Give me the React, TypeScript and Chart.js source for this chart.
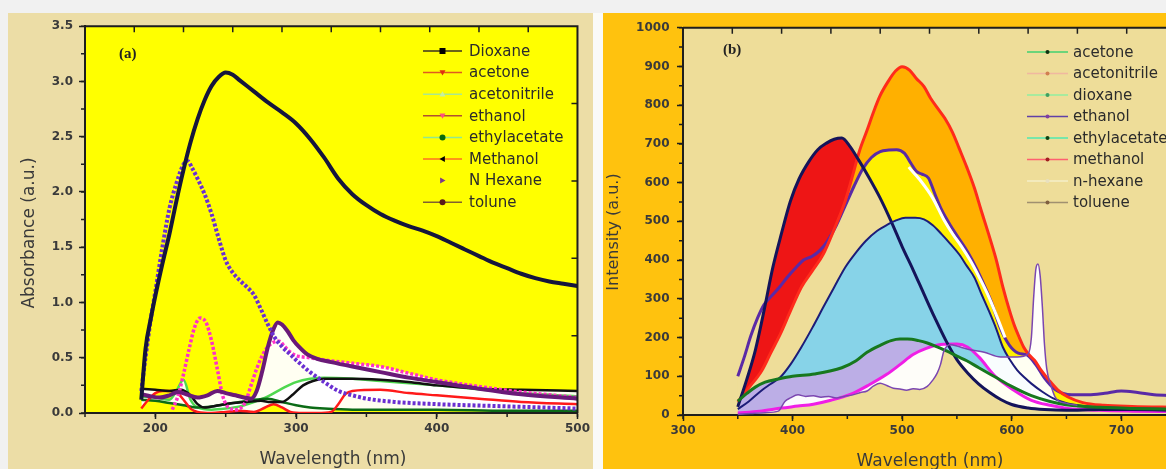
import React, { useEffect, useRef } from 'react';
import { Chart, registerables } from 'chart.js';

Chart.register(...registerables);

// ---------------- Panel (a): absorbance ----------------
const aNames = ['Dioxane', 'acetone', 'acetonitrile', 'ethanol', 'ethylacetate', 'Methanol', 'N Hexane', 'tolune'];
const aXTicks = [200, 300, 400, 500];
const aYTicks = [0, 0.5, 1, 1.5, 2, 2.5, 3, 3.5];

const aDioxaneX = [190, 200, 210, 218, 225, 230, 235, 245, 255, 265, 275, 282, 290, 298, 305, 312, 320, 340, 360, 380, 400, 430, 460, 500];
const aDioxaneY = [0.22, 0.21, 0.2, 0.21, 0.16, 0.08, 0.05, 0.07, 0.09, 0.1, 0.11, 0.1, 0.1, 0.17, 0.25, 0.29, 0.31, 0.31, 0.3, 0.28, 0.25, 0.22, 0.21, 0.2];

const aAcetoneX = [190, 195, 200, 205, 210, 215, 220, 225, 230, 240, 250, 260, 270, 278, 284, 290, 296, 305, 315, 325, 330, 335, 340, 360, 380, 400, 430, 460, 500];
const aAcetoneY = [0.04, 0.12, 0.18, 0.2, 0.2, 0.19, 0.12, 0.04, 0.01, 0.0, 0.01, 0.02, 0.01, 0.05, 0.08, 0.05, 0.01, 0.0, 0.0, 0.01, 0.08, 0.17, 0.2, 0.21, 0.18, 0.16, 0.13, 0.1, 0.08];

const aAcetonitrileX = [190, 200, 210, 215, 220, 225, 230, 240, 250, 260, 270, 280, 290, 300, 310, 320, 340, 360, 400, 450, 500];
const aAcetonitrileY = [0.15, 0.14, 0.12, 0.2, 0.3, 0.12, 0.05, 0.03, 0.04, 0.06, 0.1, 0.15, 0.22, 0.28, 0.31, 0.32, 0.31, 0.29, 0.25, 0.19, 0.15];

const aEthanolX = [212, 216, 220, 224, 228, 232, 236, 240, 244, 248, 252, 258, 264, 268, 272, 276, 280, 284, 288, 292, 296, 300, 310, 320, 340, 360, 380, 400, 430, 460, 500];
const aEthanolY = [0.03, 0.15, 0.35, 0.58, 0.78, 0.86, 0.82, 0.65, 0.4, 0.15, 0.05, 0.03, 0.1, 0.25, 0.4, 0.52, 0.6, 0.64, 0.65, 0.6, 0.55, 0.52, 0.5, 0.48, 0.45, 0.42, 0.36, 0.3, 0.24, 0.19, 0.14];

const aEthylacetateX = [190, 200, 210, 220, 230, 240, 250, 260, 270, 280, 290, 300, 310, 320, 340, 360, 400, 450, 500];
const aEthylacetateY = [0.12, 0.11, 0.09, 0.07, 0.05, 0.06, 0.08, 0.1, 0.12, 0.13, 0.1, 0.07, 0.05, 0.04, 0.03, 0.03, 0.03, 0.02, 0.02];

const aMethanolX = [190, 193, 197, 200, 205, 210, 215, 220, 225, 230, 235, 240, 245, 250, 255, 260, 270, 280, 290, 300, 310, 320, 330, 340, 350, 360, 370, 380, 390, 400, 410, 420, 430, 440, 450, 460, 470, 480, 490, 500];
const aMethanolY = [0.12, 0.58, 0.87, 1.06, 1.35, 1.62, 1.92, 2.2, 2.45, 2.66, 2.83, 2.96, 3.04, 3.08, 3.06, 3.01, 2.91, 2.81, 2.72, 2.62, 2.48, 2.31, 2.12, 1.98, 1.88, 1.8, 1.74, 1.69, 1.65, 1.6, 1.54, 1.48, 1.42, 1.36, 1.31, 1.26, 1.22, 1.19, 1.17, 1.15];

const aNHexaneX = [190, 193, 197, 200, 205, 210, 215, 220, 223, 226, 230, 235, 240, 245, 250, 255, 260, 265, 270, 275, 280, 285, 290, 295, 300, 310, 320, 330, 340, 350, 370, 400, 450, 500];
const aNHexaneY = [0.2, 0.5, 0.87, 1.1, 1.5, 1.85, 2.08, 2.25, 2.28, 2.22, 2.12, 1.98, 1.8, 1.58, 1.38, 1.27, 1.2, 1.14, 1.07, 0.94, 0.8, 0.68, 0.6, 0.54, 0.48, 0.37, 0.28, 0.2, 0.16, 0.13, 0.1, 0.08, 0.06, 0.04];

const aToluneX = [190, 197, 203, 210, 216, 222, 230, 237, 244, 250, 257, 263, 268, 272, 276, 280, 284, 287, 290, 294, 298, 302, 308, 315, 325, 340, 360, 380, 400, 430, 460, 500];
const aToluneY = [0.17, 0.15, 0.14, 0.16, 0.19, 0.17, 0.14, 0.16, 0.2, 0.18, 0.16, 0.14, 0.13, 0.2, 0.38, 0.6, 0.76, 0.82, 0.8, 0.74, 0.66, 0.6, 0.53, 0.49, 0.46, 0.42, 0.37, 0.32, 0.28, 0.22, 0.17, 0.13];

// ---------------- Panel (b): emission intensity ----------------
const bNames = ['acetone', 'acetonitrile', 'dioxane', 'ethanol', 'ethylacetate', 'methanol', 'n-hexane', 'toluene'];
const bXTicks = [300, 400, 500, 600, 700];
const bYTicks = [0, 100, 200, 300, 400, 500, 600, 700, 800, 900, 1000];

const bAcetoneX = [350, 358, 366, 375, 387, 400, 420, 445, 458, 468, 480, 490, 498, 505, 515, 523, 532, 541, 550, 559, 570, 585, 600, 618, 635, 651, 680, 710, 750];
const bAcetoneY = [36, 55, 72, 85, 93, 100, 106, 122, 140, 162, 180, 192, 196, 196, 192, 186, 176, 165, 152, 140, 122, 98, 74, 50, 35, 26, 20, 17, 15];

const bAcetonitrileX = [350, 358, 366, 374, 382, 390, 398, 406, 415, 423, 431, 438, 445, 452, 460, 470, 480, 490, 500, 510, 520, 530, 540, 550, 560, 570, 580, 590, 600, 615, 630, 650, 680, 710, 750];
const bAcetonitrileY = [21, 90, 167, 270, 381, 470, 552, 610, 655, 685, 702, 712, 715, 695, 660, 612, 560, 500, 435, 375, 312, 250, 192, 143, 108, 80, 58, 40, 27, 18, 14, 12, 14, 14, 12];

const bDioxaneX = [350, 370, 390, 405, 419, 435, 455, 470, 486, 498, 510, 522, 535, 550, 560, 570, 585, 602, 618, 635, 651, 680, 710, 750];
const bDioxaneY = [5, 10, 18, 23, 28, 38, 56, 78, 105, 130, 156, 172, 182, 183, 175, 150, 100, 64, 38, 25, 17, 12, 10, 9];

const bEthanolX = [350, 356, 362, 368, 374, 380, 388, 395, 403, 410, 418, 425, 432, 440, 448, 456, 464, 472, 480, 488, 495, 502, 508, 513, 518, 524, 530, 536, 544, 552, 560, 568, 575, 582, 590, 598, 606, 614, 622, 630, 640, 655, 670, 685, 700, 715, 730, 750];
const bEthanolY = [100, 150, 205, 250, 285, 305, 330, 355, 380, 400, 410, 425, 450, 490, 540, 590, 635, 665, 680, 684, 685, 676, 650, 629, 622, 612, 570, 530, 490, 455, 420, 378, 335, 288, 222, 180, 160, 155, 130, 95, 65, 52, 52, 56, 62, 58, 52, 50];

const bEthylacetateX = [350, 360, 372, 380, 389, 398, 408, 418, 428, 438, 448, 458, 467, 477, 487, 495, 503, 512, 520, 528, 536, 544, 552, 559, 566, 572, 579, 586, 592, 599, 605, 612, 618, 628, 638, 651, 670, 700, 750];
const bEthylacetateY = [15, 35, 64, 80, 98, 130, 175, 225, 278, 330, 381, 420, 450, 475, 492, 503, 509, 509, 505, 490, 467, 442, 415, 385, 355, 315, 270, 222, 175, 140, 116, 96, 81, 60, 43, 30, 22, 18, 15];

const bMethanolX = [350, 360, 372, 380, 389, 398, 408, 418, 428, 438, 448, 455, 461, 468, 474, 480, 487, 494, 500, 507, 513, 520, 526, 533, 539, 546, 552, 559, 566, 572, 579, 586, 592, 598, 602, 607, 611, 616, 621, 627, 634, 642, 651, 665, 684, 710, 750];
const bMethanolY = [34, 70, 115, 160, 210, 268, 330, 372, 415, 480, 552, 620, 681, 735, 783, 825, 860, 888, 899, 890, 869, 848, 818, 790, 766, 730, 689, 640, 586, 530, 467, 400, 330, 270, 235, 200, 175, 155, 141, 115, 90, 65, 47, 32, 25, 22, 20];

const bNHexaneX = [506, 516, 528, 538, 546, 554, 562, 570, 578, 586, 594];
const bNHexaneY = [640, 608, 560, 505, 468, 436, 400, 358, 312, 258, 200];

const bTolueneX = [350, 362, 375, 387, 393, 398, 405, 412, 419, 426, 433, 440, 447, 455, 462, 468, 474, 480, 486, 492, 498, 504, 510, 516, 523, 528, 532, 535, 538, 541, 544, 550, 560, 575, 590, 605, 615, 618, 620, 622, 624, 626, 628, 630, 632, 636, 640, 650, 660];
const bTolueneY = [2, 4, 6, 10, 35, 44, 52, 48, 50, 46, 48, 44, 48, 52, 58, 62, 75, 82, 76, 69, 67, 64, 68, 66, 74, 90, 108, 130, 164, 178, 182, 178, 170, 162, 150, 150, 158, 200, 300, 375, 390, 360, 280, 180, 120, 75, 45, 30, 25];

// ---------------- styles ----------------
const PAGE_BG = '#f1f1f1';
const PANEL_A_BG = '#ecdda6';
const PANEL_B_BG = '#ffc20e';
const PLOT_A_BG = '#ffff00';
const PLOT_B_BG = '#eedd99';
const AXIS = '#1e1e1e';
const TICK_TEXT = '#3a3a3a';
const WHITE = 'rgba(255,255,255,0.95)';
const WHITE2 = 'rgba(255,255,255,0.94)';

const aLegendLines = ['#3a3020', '#e05a20', '#a8e890', '#b05030', '#90e890', '#ff7020', '', '#806030'];
const aLegendMarks = ['#000000', '#e03010', '#c8f0a0', '#ff5080', '#0a6a0a', '#000000', '#7a3a8a', '#5a1a1a'];
const aLegendShapes = ['square', 'down', 'up', 'down', 'circle', 'left', 'right', 'circle'];
const bLegendLines = ['#40d070', '#f0b8a0', '#90eea0', '#6040a8', '#50e8b0', '#ff6070', '#f4eec8', '#a09070'];
const bLegendMarks = ['#103010', '#d08050', '#40a060', '#8040a0', '#104010', '#a02020', '#e8e0c0', '#806040'];
const bLegendShapes = ['circle', 'circle', 'circle', 'circle', 'circle', 'circle', 'circle', 'circle'];

const pts = (xs: number[], ys: number[]) => xs.map((x, i) => ({ x, y: ys[i] }));

function drawMarker(ctx: CanvasRenderingContext2D, shape: string, x: number, y: number, r: number, color: string) {
  ctx.fillStyle = color;
  ctx.beginPath();
  if (shape === 'square') ctx.rect(x - r, y - r, 2 * r, 2 * r);
  else if (shape === 'circle') ctx.arc(x, y, r, 0, Math.PI * 2);
  else if (shape === 'up') { ctx.moveTo(x, y - r); ctx.lineTo(x + r, y + r * 0.8); ctx.lineTo(x - r, y + r * 0.8); ctx.closePath(); }
  else if (shape === 'down') { ctx.moveTo(x, y + r); ctx.lineTo(x + r, y - r * 0.8); ctx.lineTo(x - r, y - r * 0.8); ctx.closePath(); }
  else if (shape === 'left') { ctx.moveTo(x - r, y); ctx.lineTo(x + r * 0.8, y - r); ctx.lineTo(x + r * 0.8, y + r); ctx.closePath(); }
  else if (shape === 'right') { ctx.moveTo(x + r, y); ctx.lineTo(x - r * 0.8, y - r); ctx.lineTo(x - r * 0.8, y + r); ctx.closePath(); }
  ctx.fill();
}

const framePlugin = {
  id: 'frame',
  beforeDraw(chart: any, _a: any, o: any) {
    const { ctx, chartArea: a } = chart;
    ctx.save();
    ctx.fillStyle = o.plotBg;
    ctx.fillRect(a.left, a.top, a.right - a.left, a.bottom - a.top);
    ctx.restore();
  },
  afterDraw(chart: any, _a: any, o: any) {
    const { ctx, chartArea: a } = chart;
    const xs = chart.scales.x;
    const ys = chart.scales.y;
    ctx.save();
    ctx.strokeStyle = o.color;
    ctx.lineWidth = 2;
    ctx.beginPath();
    ctx.moveTo(a.left, a.top);
    ctx.lineTo(a.right, a.top);
    ctx.lineTo(a.right, a.bottom);
    ctx.stroke();
    ctx.lineWidth = 1.5;
    ctx.beginPath();
    for (let v = xs.min; v <= xs.max + 1e-9; v += o.minorX) {
      const p = xs.getPixelForValue(v);
      ctx.moveTo(p, a.bottom); ctx.lineTo(p, a.bottom + o.minorLen);
    }
    for (let v = ys.min; v <= ys.max + 1e-9; v += o.minorY) {
      const p = ys.getPixelForValue(v);
      ctx.moveTo(a.left, p); ctx.lineTo(a.left - o.minorLen, p);
    }
    for (let i = 1; i < o.topDiv; i++) {
      const p = a.left + ((a.right - a.left) * i) / o.topDiv;
      ctx.moveTo(p, a.top); ctx.lineTo(p, a.top + o.frameTickLen);
    }
    for (let i = 1; i < o.rightDiv; i++) {
      const p = a.top + ((a.bottom - a.top) * i) / o.rightDiv;
      ctx.moveTo(a.right, p); ctx.lineTo(a.right - o.frameTickLen, p);
    }
    ctx.stroke();
    ctx.fillStyle = o.titleColor;
    ctx.textAlign = 'center';
    ctx.textBaseline = 'middle';
    ctx.font = o.xTitleFont;
    ctx.fillText(o.xTitle, o.xTitleX, o.xTitleY);
    ctx.translate(o.yTitleX, o.yTitleY);
    ctx.rotate(-Math.PI / 2);
    ctx.font = o.yTitleFont;
    ctx.fillText(o.yTitle, 0, 0);
    ctx.restore();
  },
};

const legendPlugin = {
  id: 'boxLegend',
  afterDraw(chart: any, _a: any, o: any) {
    const ctx = chart.ctx;
    ctx.save();
    chart.data.datasets.forEach((ds: any, i: number) => {
      const y = o.y0 + i * o.rowH;
      const line = o.lines[i];
      if (line) {
        ctx.strokeStyle = line;
        ctx.lineWidth = o.lineWidth;
        ctx.beginPath();
        ctx.moveTo(o.x0, y);
        ctx.lineTo(o.x1, y);
        ctx.stroke();
      }
      drawMarker(ctx, o.shapes[i], (o.x0 + o.x1) / 2, y, o.markerR, o.marks[i]);
      ctx.fillStyle = o.textColor;
      ctx.font = o.font;
      ctx.textAlign = 'left';
      ctx.textBaseline = 'middle';
      ctx.fillText(ds.label, o.textX, y + 1);
    });
    ctx.restore();
  },
};

function axes(xMin: number, xMax: number, yMin: number, yMax: number, xTicks: number[], yTicks: number[], yFmt: (v: number) => string, yWidth: number, xHeight: number, yPad: number) {
  const tickFont = { family: 'DejaVu Sans', size: 12, weight: 'bold' };
  const grid = { display: true, drawOnChartArea: false, drawTicks: true, tickLength: 6, tickWidth: 1.5, tickColor: AXIS };
  const border = { display: true, color: AXIS, width: 2 };
  return {
    x: {
      type: 'linear', min: xMin, max: xMax, bounds: 'data',
      afterBuildTicks: (s: any) => { s.ticks = xTicks.map((v) => ({ value: v })); },
      afterFit: (s: any) => { s.height = xHeight; },
      ticks: { font: tickFont, color: TICK_TEXT, padding: 3, autoSkip: false, maxRotation: 0, callback: (v: any) => String(v) },
      grid, border,
    },
    y: {
      type: 'linear', min: yMin, max: yMax, bounds: 'data',
      afterBuildTicks: (s: any) => { s.ticks = yTicks.map((v) => ({ value: v })); },
      afterFit: (s: any) => { s.width = yWidth; },
      ticks: { font: tickFont, color: TICK_TEXT, padding: yPad, autoSkip: false, callback: (v: any) => yFmt(Number(v)) },
      grid, border,
    },
  };
}

function line(label: string, data: any[], color: string, width: number, order: number, extra: any = {}) {
  return { label, data, borderColor: color, backgroundColor: color, borderWidth: width, order, fill: false, pointRadius: 0, cubicInterpolationMode: 'monotone', ...extra };
}

function configA(): any {
  return {
    type: 'line',
    data: {
      datasets: [
        line(aNames[0], pts(aDioxaneX, aDioxaneY), '#111111', 2.5, 4, { fill: { target: 1, above: WHITE, below: 'transparent' } }),
        line(aNames[1], pts(aAcetoneX, aAcetoneY), '#ff1a1a', 2.5, 5, { fill: { target: 6, above: WHITE, below: 'transparent' } }),
        line(aNames[2], pts(aAcetonitrileX, aAcetonitrileY), '#4fd84f', 2.5, 8),
        line(aNames[3], pts(aEthanolX, aEthanolY), '#ff30c8', 3.5, 3, { borderDash: [3, 2], fill: { target: 6, above: WHITE, below: 'transparent' } }),
        line(aNames[4], pts(aEthylacetateX, aEthylacetateY), '#0b6b16', 2.5, 7, { fill: { target: 2, above: WHITE, below: WHITE2 } }),
        line(aNames[5], pts(aMethanolX, aMethanolY), '#15153c', 4, 0),
        line(aNames[6], pts(aNHexaneX, aNHexaneY), '#6a2fd2', 4, 1, { borderDash: [3, 2] }),
        line(aNames[7], pts(aToluneX, aToluneY), '#6a1a78', 4, 2, { fill: { target: 0, above: WHITE, below: 'transparent' } }),
      ],
    },
    options: {
      responsive: false, animation: false, devicePixelRatio: 1,
      layout: { padding: { left: 0, top: 12, right: 15, bottom: 0 } },
      scales: axes(150, 500, 0, 3.5, aXTicks, aYTicks, (v) => v.toFixed(1), 77, 56, 6),
      plugins: {
        legend: { display: false }, tooltip: { enabled: false },
        filler: { drawTime: 'beforeDatasetsDraw' },
        frame: {
          plotBg: PLOT_A_BG, color: AXIS, minorX: 50, minorY: 0.25, minorLen: 4, topDiv: 10, rightDiv: 5, frameTickLen: 6,
          titleColor: '#3a3a3a', xTitle: 'Wavelength (nm)', xTitleFont: '17px "DejaVu Sans"', xTitleX: 325, xTitleY: 447,
          yTitle: 'Absorbance (a.u.)', yTitleFont: '17px "DejaVu Sans"', yTitleX: 22, yTitleY: 220,
        },
        boxLegend: {
          x0: 415, x1: 454, textX: 461, y0: 38, rowH: 21.6, lineWidth: 1.5, markerR: 3,
          lines: aLegendLines, marks: aLegendMarks, shapes: aLegendShapes, textColor: '#2b2b2b', font: '15px "DejaVu Sans"',
        },
      },
    },
    plugins: [framePlugin, legendPlugin],
  };
}

function configB(): any {
  return {
    type: 'line',
    data: {
      datasets: [
        line(bNames[0], pts(bAcetoneX, bAcetoneY), '#17781e', 3, 3, { fill: { target: 2, above: '#bcaee6', below: 'transparent' } }),
        line(bNames[1], pts(bAcetonitrileX, bAcetonitrileY), '#14145a', 3, 5, { fill: { target: 5, above: '#ee1515', below: 'transparent' } }),
        line(bNames[2], pts(bDioxaneX, bDioxaneY), '#f01ee6', 3, 7, { fill: { target: 1, above: WHITE, below: 'transparent' } }),
        line(bNames[3], pts(bEthanolX, bEthanolY), '#5a2aa6', 3, 8, { fill: { target: 1, above: '#fff000', below: 'transparent' } }),
        line(bNames[4], pts(bEthylacetateX, bEthylacetateY), '#1c1c78', 2, 4, { fill: { target: 0, above: '#87d3e8', below: WHITE } }),
        line(bNames[5], pts(bMethanolX, bMethanolY), '#ff2b1b', 3, 6, { fill: { target: 3, above: '#ffb000', below: PLOT_B_BG } }),
        line(bNames[6], pts(bNHexaneX, bNHexaneY), '#ffffff', 3, 1),
        line(bNames[7], pts(bTolueneX, bTolueneY), '#7b46b0', 1.5, 2, { fill: { target: 2, above: WHITE, below: WHITE2 } }),
      ],
    },
    options: {
      responsive: false, animation: false, devicePixelRatio: 1,
      layout: { padding: { left: 0, top: 13, right: 27, bottom: 0 } },
      scales: axes(300, 750, 0, 1000, bXTicks, bYTicks, (v) => String(v), 80, 54, 7.5),
      plugins: {
        legend: { display: false }, tooltip: { enabled: false },
        filler: { drawTime: 'beforeDatasetsDraw' },
        frame: {
          plotBg: PLOT_B_BG, color: AXIS, minorX: 50, minorY: 50, minorLen: 4, topDiv: 10, rightDiv: 5, frameTickLen: 6,
          titleColor: '#3a3a3a', xTitle: 'Wavelength (nm)', xTitleFont: '17px "DejaVu Sans"', xTitleX: 327, xTitleY: 449,
          yTitle: 'Intensity (a.u.)', yTitleFont: '16px "DejaVu Sans"', yTitleX: 11, yTitleY: 219,
        },
        boxLegend: {
          x0: 424, x1: 465, textX: 470, y0: 39, rowH: 21.5, lineWidth: 1.5, markerR: 2,
          lines: bLegendLines, marks: bLegendMarks, shapes: bLegendShapes, textColor: '#2b2b2b', font: '15px "DejaVu Sans"',
        },
      },
    },
    plugins: [framePlugin, legendPlugin],
  };
}

export default function App() {
  const refA = useRef<HTMLCanvasElement>(null);
  const refB = useRef<HTMLCanvasElement>(null);
  useEffect(() => {
    const ca = new Chart(refA.current as HTMLCanvasElement, configA());
    const cb = new Chart(refB.current as HTMLCanvasElement, configB());
    return () => { ca.destroy(); cb.destroy(); };
  }, []);
  const labelStyle: any = { position: 'absolute', font: 'bold 15px "Liberation Serif", "DejaVu Serif", serif', color: '#222' };
  return (
    <div style={{ position: 'fixed', left: 0, top: 0, width: 1166, height: 469, overflow: 'hidden', background: PAGE_BG }}>
      <div style={{ position: 'absolute', left: 593, top: 13, width: 10, height: 456, background: '#fafaf7' }} />
      <canvas ref={refA} width={585} height={456} style={{ position: 'absolute', left: 8, top: 13, width: 585, height: 456, background: PANEL_A_BG }} />
      <canvas ref={refB} width={600} height={456} style={{ position: 'absolute', left: 603, top: 13, width: 600, height: 456, background: PANEL_B_BG }} />
      <div style={{ ...labelStyle, left: 119, top: 45 }}>(a)</div>
      <div style={{ ...labelStyle, left: 723, top: 41 }}>(b)</div>
    </div>
  );
}
